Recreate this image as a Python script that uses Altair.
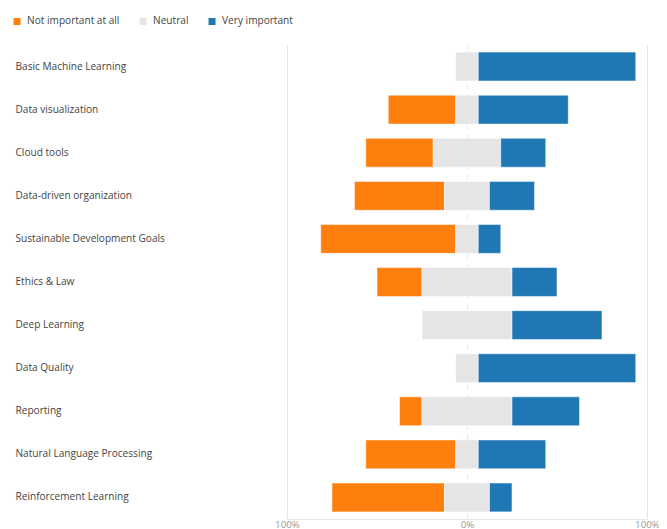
import altair as alt
import pandas as pd

categories = [
    "Basic Machine Learning",
    "Data visualization",
    "Cloud tools",
    "Data-driven organization",
    "Sustainable Development Goals",
    "Ethics & Law",
    "Deep Learning",
    "Data Quality",
    "Reporting",
    "Natural Language Processing",
    "Reinforcement Learning",
]
not_important = [0, 37.5, 37.5, 50, 75, 25, 0, 0, 12.5, 50, 62.5]
neutral = [12.5, 12.5, 37.5, 25, 12.5, 50, 50, 12.5, 50, 12.5, 25]
very_important = [87.5, 50, 25, 25, 12.5, 25, 50, 87.5, 37.5, 37.5, 12.5]

responses = ["Not important at all", "Neutral", "Very important"]
colors = ["#ff7f0e", "#e5e5e5", "#1f77b4"]

rows = []
for c, o, n, v in zip(categories, not_important, neutral, very_important):
    rows.append({"category": c, "response": responses[0], "value": o,
                 "start": -n / 2 - o, "end": -n / 2})
    rows.append({"category": c, "response": responses[1], "value": n,
                 "start": -n / 2, "end": n / 2})
    rows.append({"category": c, "response": responses[2], "value": v,
                 "start": n / 2, "end": n / 2 + v})
df = pd.DataFrame(rows)
df = df[df["value"] > 0]

FONT = "Open Sans"

chart = alt.Chart(df).mark_bar(stroke="white", strokeWidth=1, strokeOpacity=0.5).encode(
    x=alt.X(
        "start:Q",
        scale=alt.Scale(domain=[-100, 100], nice=False, zero=False),
        axis=alt.Axis(
            title=None,
            values=[-100, 0, 100],
            labelExpr="abs(datum.value) + '%'",
            ticks=False,
            labelFlush=False,
            labelPadding=0,
            labelColor="#999999",
            labelFontSize=9.8,
            labelFont=FONT,
            domainColor="#e6e6e6",
            grid=True,
            gridColor="#e6e6e6",
            gridDash={"condition": {"test": "datum.value === 0", "value": [5, 5]}, "value": []},
        ),
    ),
    x2="end:Q",
    y=alt.Y(
        "category:N",
        sort=categories,
        scale=alt.Scale(paddingInner=0.33, paddingOuter=0.165),
        axis=alt.Axis(
            title=None,
            ticks=False,
            domain=False,
            labelAlign="left",
            labelPadding=272,
            labelColor="#444444",
            labelFontSize=10.1,
            labelFont=FONT,
            labelLimit=270,
        ),
    ),
    color=alt.Color(
        "response:N",
        scale=alt.Scale(domain=responses, range=colors),
        legend=alt.Legend(
            title=None,
            orient="none",
            direction="horizontal",
            legendX=-275,
            legendY=-29,
            padding=0,
            symbolType="square",
            symbolSize=49,
            symbolStrokeWidth=0,
            labelFontSize=10.1,
            labelFont=FONT,
            labelColor="#444444",
            labelOffset=5,
            columnPadding=18,
        ),
    ),
).properties(
    width=360,
    height=474,
    autosize=alt.AutoSizeParams(type="none"),
    padding={"left": 279, "top": 37, "right": 12, "bottom": 11},
).configure_view(stroke=None)

chart.save("out.html", embed_options={"renderer": "svg", "actions": False})
